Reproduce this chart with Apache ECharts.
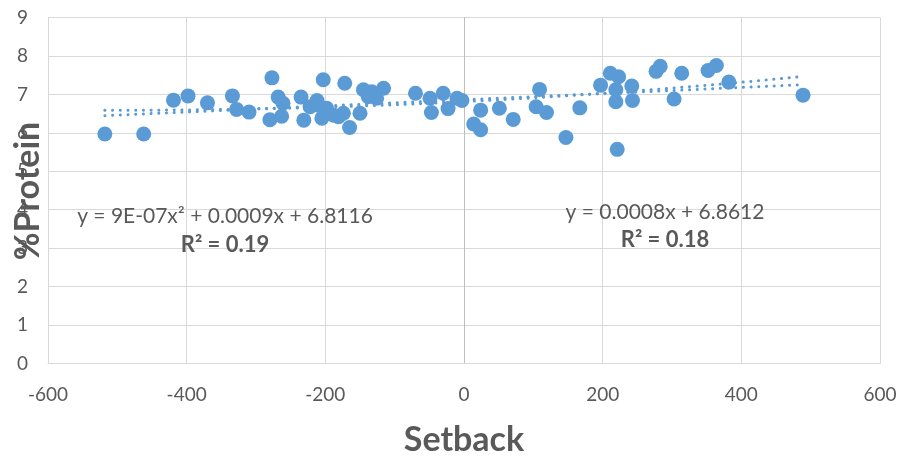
<!DOCTYPE html>
<html>
<head>
<meta charset="utf-8">
<script src="https://cdn.jsdelivr.net/npm/echarts@6/dist/echarts.min.js"></script>
<style>
html,body{margin:0;padding:0;background:#fff;}
#c{width:900px;height:458px;}
</style>
</head>
<body>
<div id="c"></div>
<script>
// Setback values (x) and %Protein values (y)
var setback = [
  -518, -462, -419, -398, -370, -334, -328, -310, -277, -280,
  -268, -261, -263, -235, -231, -222, -212, -210, -205, -203,
  -198, -188, -181, -174, -172, -165, -150, -145, -138, -133,
  -126, -116, -70, -49, -47, -30, -23, -10, -3, 14,
  24, 24, 51, 71, 104, 109, 119, 147, 167, 197,
  211, 219, 219, 223, 221, 242, 243, 277, 283, 303,
  314, 352, 364, 382, 489
];
var protein = [
  5.97, 5.97, 6.85, 6.96, 6.78, 6.96, 6.61, 6.54, 7.43, 6.34,
  6.93, 6.77, 6.43, 6.93, 6.33, 6.68, 6.84, 6.72, 6.38, 7.38,
  6.64, 6.46, 6.42, 6.51, 7.29, 6.14, 6.51, 7.12, 6.94, 7.07,
  6.9, 7.16, 7.03, 6.9, 6.53, 7.03, 6.63, 6.9, 6.84, 6.23,
  6.08, 6.59, 6.64, 6.35, 6.68, 7.13, 6.53, 5.88, 6.65, 7.24,
  7.55, 6.81, 7.12, 7.46, 5.57, 7.22, 6.84, 7.6, 7.73, 6.88,
  7.55, 7.62, 7.75, 7.32, 6.98
];
// Trendline coefficients shown on the chart
var polyCoef = {a: 9e-7, b: 0.0009, c: 6.8116};
var linCoef = {b: 0.0008, c: 6.8612};
var trendFrom = -518, trendTo = 489;
var xTicks = [-600, -400, -200, 0, 200, 400, 600];
var yTicks = [0, 1, 2, 3, 4, 5, 6, 7, 8, 9];
var xTitle = 'Setback', yTitle = '%Protein';
var polyLabel = 'y = 9E-07x² + 0.0009x + 6.8116', polyR2 = 'R² = 0.19';
var linLabel = 'y = 0.0008x + 6.8612', linR2 = 'R² = 0.18';

var pts = setback.map(function (x, i) { return [x, protein[i]]; });
var polyLine = [], linLine = [];
function polyY(x) { return polyCoef.a * x * x + polyCoef.b * x + polyCoef.c; }
function linY(x) { return linCoef.b * x + linCoef.c; }
for (var x = trendFrom; x < trendTo; x += 4) {
  polyLine.push([x, polyY(x)]);
  linLine.push([x, linY(x)]);
}
polyLine.push([trendTo, polyY(trendTo)]);
linLine.push([trendTo, linY(trendTo)]);

var FONT = 'Lato, "Open Sans", sans-serif';
var GRAY = '#595959';
var BLUE = '#5B9BD5';

function txt(x, y, s, size, bold, rot) {
  return {type: 'text', x: x, y: y, rotation: rot || 0, z: 10,
    style: {text: s, fontFamily: FONT, fontSize: size, fontWeight: bold ? 'bold' : 'normal',
      fill: GRAY, align: 'center', verticalAlign: 'middle'}};
}

var chart = echarts.init(document.getElementById('c'), null, {renderer: 'canvas'});
chart.setOption({
  animation: false,
  backgroundColor: '#fff',
  grid: {left: 48, right: 20, top: 17.5, bottom: 94.5, containLabel: false, outerBoundsMode: 'none'},
  xAxis: {
    type: 'value', min: xTicks[0], max: xTicks[xTicks.length - 1], interval: 200,
    axisLine: {onZero: false, lineStyle: {color: '#D9D9D9', width: 1}},
    axisTick: {show: false},
    axisLabel: {fontFamily: FONT, fontSize: 19, color: GRAY, margin: 22},
    splitLine: {show: true, lineStyle: {color: '#D9D9D9', width: 1}}
  },
  yAxis: {
    type: 'value', min: yTicks[0], max: yTicks[yTicks.length - 1], interval: 1,
    axisLine: {show: true, onZero: true, lineStyle: {color: '#BFBFBF', width: 1}},
    axisTick: {show: false},
    axisLabel: {fontFamily: FONT, fontSize: 19, color: GRAY, margin: 20},
    splitLine: {show: true, lineStyle: {color: '#D9D9D9', width: 1}}
  },
  graphic: [
    txt(28, 191, yTitle, 34, true, Math.PI / 2),
    txt(464, 440, xTitle, 34, true),
    txt(225, 216, polyLabel, 21, false),
    txt(225, 245, polyR2, 22, true),
    txt(665, 212, linLabel, 21, false),
    txt(665, 240, linR2, 22, true)
  ],
  series: [
    {type: 'scatter', data: pts, symbol: 'circle', symbolSize: 15,
     itemStyle: {color: BLUE, opacity: 1}, z: 3},
    {type: 'line', data: polyLine, showSymbol: false, symbol: 'none', smooth: false,
     lineStyle: {color: BLUE, width: 3, type: [0.1, 7.6], cap: 'round'}, z: 4},
    {type: 'line', data: linLine, showSymbol: false, symbol: 'none', smooth: false,
     lineStyle: {color: BLUE, width: 3, type: [0.1, 7.6], cap: 'round'}, z: 4}
  ]
});
</script>
</body>
</html>
